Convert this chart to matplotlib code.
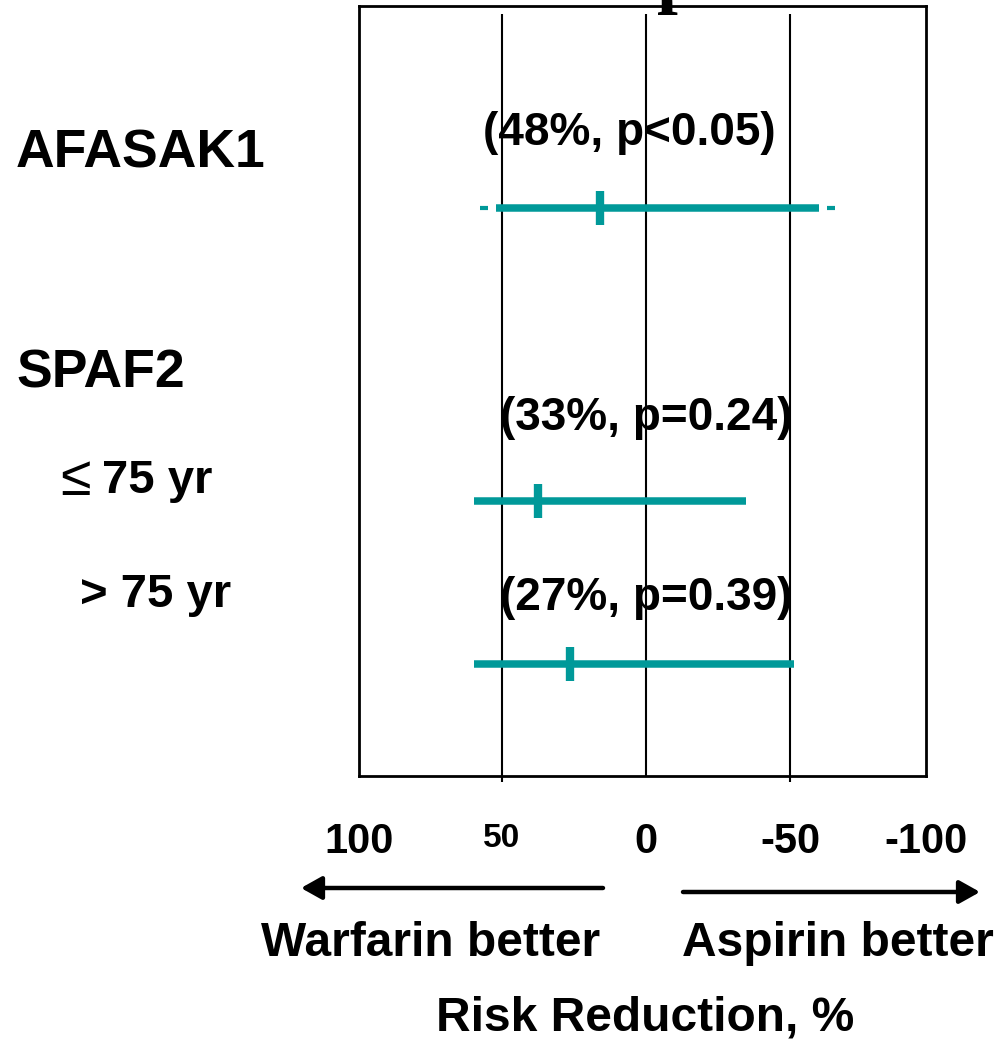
import matplotlib
matplotlib.use("Agg")
import matplotlib.pyplot as plt
from matplotlib.patches import FancyArrowPatch, ArrowStyle

# ---- data -------------------------------------------------------------
row_labels = ["≤ 75 yr", "> 75 yr"]
group_labels = ["AFASAK1", "SPAF2"]
point_est = [16.0, 37.5, 26.4]          # plotted point estimates (%)
ci_left = [52.1, 59.7, 59.7]            # warfarin-side interval end
ci_right = [-60.1, -34.7, -51.4]        # aspirin-side interval end
afasak_tails = [(57.6, 54.9), (-62.8, -65.6)]   # short dashed extensions
results = ["(48%, p<0.05)", "(33%, p=0.24)", "(27%, p=0.39)"]
tick_values = [100, 50, 0, -50, -100]
tick_labels = ["100", "50", "0", "-50", "-100"]
grid_values = [50, 0, -50]

# ---- style ------------------------------------------------------------
TEAL = "#009999"
SANS = "Liberation Sans"
W, H = 998, 1041

fig = plt.figure(figsize=(W / 100, H / 100), dpi=100)


def fx(x):
    return x / W


def fy(y):
    return 1 - y / H


# plot frame
ax = fig.add_axes([fx(359), fy(776), (926 - 359) / W, (776 - 6) / H])
ax.set_xlim(99.65, -97.2)
ax.set_ylim(0, 1)
ax.set_xticks([])
ax.set_yticks([])
for s in ax.spines.values():
    s.set_linewidth(2.0)


def ay(y):
    return (776 - y) / 770


# vertical reference lines
grid_bottom = {50: -0.008, 0: 0.0, -50: -0.008}
for v in grid_values:
    ax.plot([v, v], [grid_bottom[v], ay(14)], color="black", lw=1.5,
            clip_on=False, zorder=1, solid_capstyle="butt")

row_y = [ay(208), ay(501), ay(664)]

# interval bars and point estimates
for y, lo, hi, pe in zip(row_y, ci_left, ci_right, point_est):
    ax.plot([lo, hi], [y, y], color=TEAL, lw=5.4, solid_capstyle="butt",
            zorder=3)
    ax.plot([pe], [y], marker="|", ms=24, mew=6.0, color=TEAL, zorder=4)

for a, b in afasak_tails:
    ax.plot([a, b], [row_y[0], row_y[0]], color=TEAL, lw=3.0,
            solid_capstyle="butt", zorder=3)

# result annotations
res_x = [5.9, 0.0, 0.0]
res_y = [ay(145), ay(430), ay(610)]
for x, y, t in zip(res_x, res_y, results):
    ax.text(x, y, t, ha="center", va="baseline", fontsize=33,
            fontweight="bold", family=SANS, zorder=5)

# axis value labels
lo_lim, hi_lim = ax.get_xlim()
for v, lab in zip(tick_values, tick_labels):
    xv = min(max(v, hi_lim), lo_lim)
    if lab == "50":
        ax.text(xv, ay(847), lab, ha="center", va="baseline", fontsize=24,
                fontweight="bold", family=SANS, clip_on=False)
    else:
        ax.text(xv, ay(853), lab, ha="center", va="baseline", fontsize=30,
                fontweight="bold", family=SANS, clip_on=False)

# row labels on the left
fig.text(fx(16), fy(168), group_labels[0], fontsize=38.5, fontweight="bold",
         family=SANS, va="baseline", ha="left")
fig.text(fx(16), fy(387), group_labels[1], fontsize=38.5, fontweight="bold",
         family=SANS, va="baseline", ha="left")
fig.text(fx(60), fy(495), row_labels[0][0], fontsize=40, fontweight="normal",
         family=[SANS, "DejaVu Sans"], va="baseline", ha="left")
fig.text(fx(102), fy(493), row_labels[0][2:], fontsize=34, fontweight="bold",
         family=SANS, va="baseline", ha="left")
fig.text(fx(80), fy(607), row_labels[1], fontsize=34, fontweight="bold",
         family=SANS, va="baseline", ha="left")

# direction arrows
style = ArrowStyle("-|>", head_length=1.25, head_width=0.7)
for (x0, x1, y) in [(603, 301, 888), (683, 980, 892)]:
    fig.add_artist(FancyArrowPatch((fx(x0), fy(y)), (fx(x1), fy(y)),
                                   transform=fig.transFigure,
                                   arrowstyle=style, mutation_scale=10,
                                   lw=3.2, color="black",
                                   shrinkA=0, shrinkB=0))

fig.text(fx(431), fy(956), "Warfarin better", fontsize=34.5,
         fontweight="bold", family=SANS, ha="center", va="baseline")
fig.text(fx(838), fy(956), "Aspirin better", fontsize=34.5,
         fontweight="bold", family=SANS, ha="center", va="baseline")
fig.text(fx(645), fy(1031), "Risk Reduction, %", fontsize=34.5,
         fontweight="bold", family=SANS, ha="center", va="baseline")

# title running off the top edge
fig.text(fx(657), 1 + 1 / H, "p", fontsize=54, fontweight="bold",
         family="Liberation Serif", ha="left", va="baseline")

fig.savefig("out.png", dpi=100)
